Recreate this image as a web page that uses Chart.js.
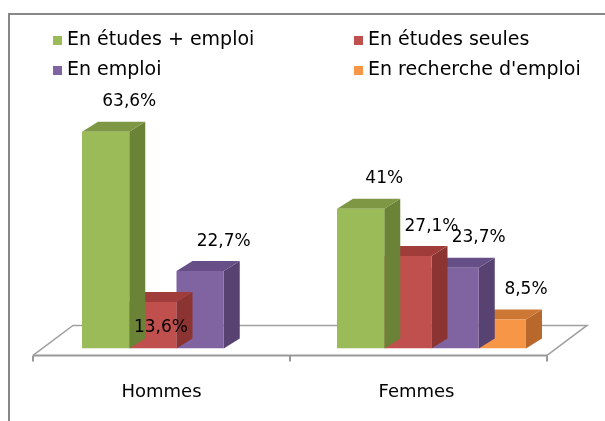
<!DOCTYPE html>
<html><head><meta charset="utf-8">
<script src="https://cdn.jsdelivr.net/npm/chart.js@4/dist/chart.umd.min.js"></script>
<style>html,body{margin:0;padding:0;background:#fff;}#wrap{width:605px;height:421px;position:relative;}</style>
</head><body><div id="wrap"><canvas id="c"></canvas></div>
<script>
// ---- data ----
const categories = ['Hommes', 'Femmes'];
const seriesNames = ['En études + emploi', 'En études seules', 'En emploi', "En recherche d'emploi"];
const etudesEmploi = [63.6, 41];
const etudesSeules = [13.6, 27.1];
const emploi = [22.7, 23.7];
const rechercheEmploi = [null, 8.5];

// ---- styles ----
const frontColors = ['#9BBB59', '#C0504D', '#8064A2', '#F79646'];
const sideColors = ['#6A8337', '#8C3431', '#574272', '#B8682A'];
const topColors = ['#7D9745', '#A03D3A', '#654F86', '#CC7733'];
const DX = 16, DY = -10;
const FONT = '"DejaVu Sans", sans-serif';

const seriesValues = [etudesEmploi, etudesSeules, emploi, rechercheEmploi];
const datasets = seriesValues.map((vals, i) => ({
  label: seriesNames[i],
  data: vals,
  backgroundColor: frontColors[i],
  borderWidth: 0,
  categoryPercentage: 0.741,
  barPercentage: 1
}));

const fmt = v => String(v).replace('.', ',') + '%';

const threeD = {
  id: 'threeD',
  beforeDraw(chart) {
    const ctx = chart.ctx;
    ctx.save();
    ctx.strokeStyle = '#878787';
    ctx.lineWidth = 2;
    ctx.beginPath();
    ctx.moveTo(9, 421);
    ctx.lineTo(9, 14);
    ctx.lineTo(605, 14);
    ctx.stroke();
    // legend
    const items = chart.data.datasets;
    const cols = [53, 354], rows = [40, 70];
    ctx.font = '19px ' + FONT;
    ctx.textBaseline = 'middle';
    ctx.textAlign = 'left';
    items.forEach((ds, i) => {
      const cx = cols[i % 2], cy = rows[Math.floor(i / 2)];
      ctx.fillStyle = ds.backgroundColor;
      ctx.fillRect(cx, cy - 4, 9, 9);
      ctx.fillStyle = '#000';
      ctx.fillText(ds.label, cx + 14, cy);
    });
    ctx.restore();
  },
  beforeDatasetsDraw(chart) {
    const ctx = chart.ctx, a = chart.chartArea;
    const fx0 = a.left - 16, fx1 = a.right - 12, fy = a.bottom + 7;
    const bx = 40, by = -30;
    ctx.save();
    ctx.strokeStyle = '#A0A0A0';
    ctx.lineWidth = 1.5;
    ctx.beginPath();
    ctx.moveTo(fx0, fy);
    ctx.lineTo(fx0 + bx, fy + by);
    ctx.lineTo(fx1 + bx, fy + by);
    ctx.lineTo(fx1, fy);
    ctx.stroke();
    ctx.strokeStyle = '#999';
    ctx.lineWidth = 2;
    ctx.beginPath();
    ctx.moveTo(fx0, fy);
    ctx.lineTo(fx1, fy);
    const mid = (fx0 + fx1) / 2;
    [fx0, mid, fx1].forEach(t => { ctx.moveTo(t, fy); ctx.lineTo(t, fy + 6); });
    ctx.stroke();
    ctx.restore();
  },
  beforeDatasetDraw(chart, args) {
    const ctx = chart.ctx, i = args.index;
    ctx.save();
    args.meta.data.forEach((bar, j) => {
      if (chart.data.datasets[i].data[j] == null) return;
      const p = bar.getProps(['x', 'y', 'base', 'width'], true);
      const l = p.x - p.width / 2, r = p.x + p.width / 2;
      ctx.fillStyle = sideColors[i];
      ctx.beginPath();
      ctx.moveTo(r, p.y); ctx.lineTo(r + DX, p.y + DY);
      ctx.lineTo(r + DX, p.base + DY); ctx.lineTo(r, p.base);
      ctx.closePath(); ctx.fill();
      ctx.fillStyle = topColors[i];
      ctx.beginPath();
      ctx.moveTo(l, p.y); ctx.lineTo(l + DX, p.y + DY);
      ctx.lineTo(r + DX, p.y + DY); ctx.lineTo(r, p.y);
      ctx.closePath(); ctx.fill();
    });
    ctx.restore();
  },
  afterDatasetsDraw(chart, args, opts) {
    const ctx = chart.ctx;
    ctx.save();
    ctx.font = '17px ' + FONT;
    ctx.fillStyle = '#000';
    ctx.textAlign = 'center';
    ctx.textBaseline = 'middle';
    chart.data.datasets.forEach((ds, i) => {
      chart.getDatasetMeta(i).data.forEach((bar, j) => {
        const v = ds.data[j];
        if (v == null) return;
        const p = bar.getProps(['x', 'y', 'width'], true);
        const inside = (opts.inside || []).some(o => o[0] === i && o[1] === j);
        if (inside) ctx.fillText(fmt(v), p.x + DX / 2, p.y + 25);
        else ctx.fillText(fmt(v), p.x + p.width / 2, p.y - 30);
      });
    });
    ctx.restore();
  }
};

new Chart(document.getElementById('c'), {
  type: 'bar',
  data: { labels: categories, datasets },
  plugins: [threeD],
  options: {
    responsive: true,
    maintainAspectRatio: false,
    animation: false,
    layout: { padding: { left: 49, right: 46, top: 110, bottom: -15 } },
    plugins: {
      legend: { display: false },
      tooltip: { enabled: false },
      threeD: { inside: [[1, 0]] }
    },
    scales: {
      y: { display: false, min: 0, max: 70 },
      x: {
        grid: { display: false, drawTicks: false },
        border: { display: false },
        ticks: { color: '#000', font: { family: FONT, size: 18 }, padding: 33, labelOffset: -15 }
      }
    }
  }
});
</script>
</body></html>
